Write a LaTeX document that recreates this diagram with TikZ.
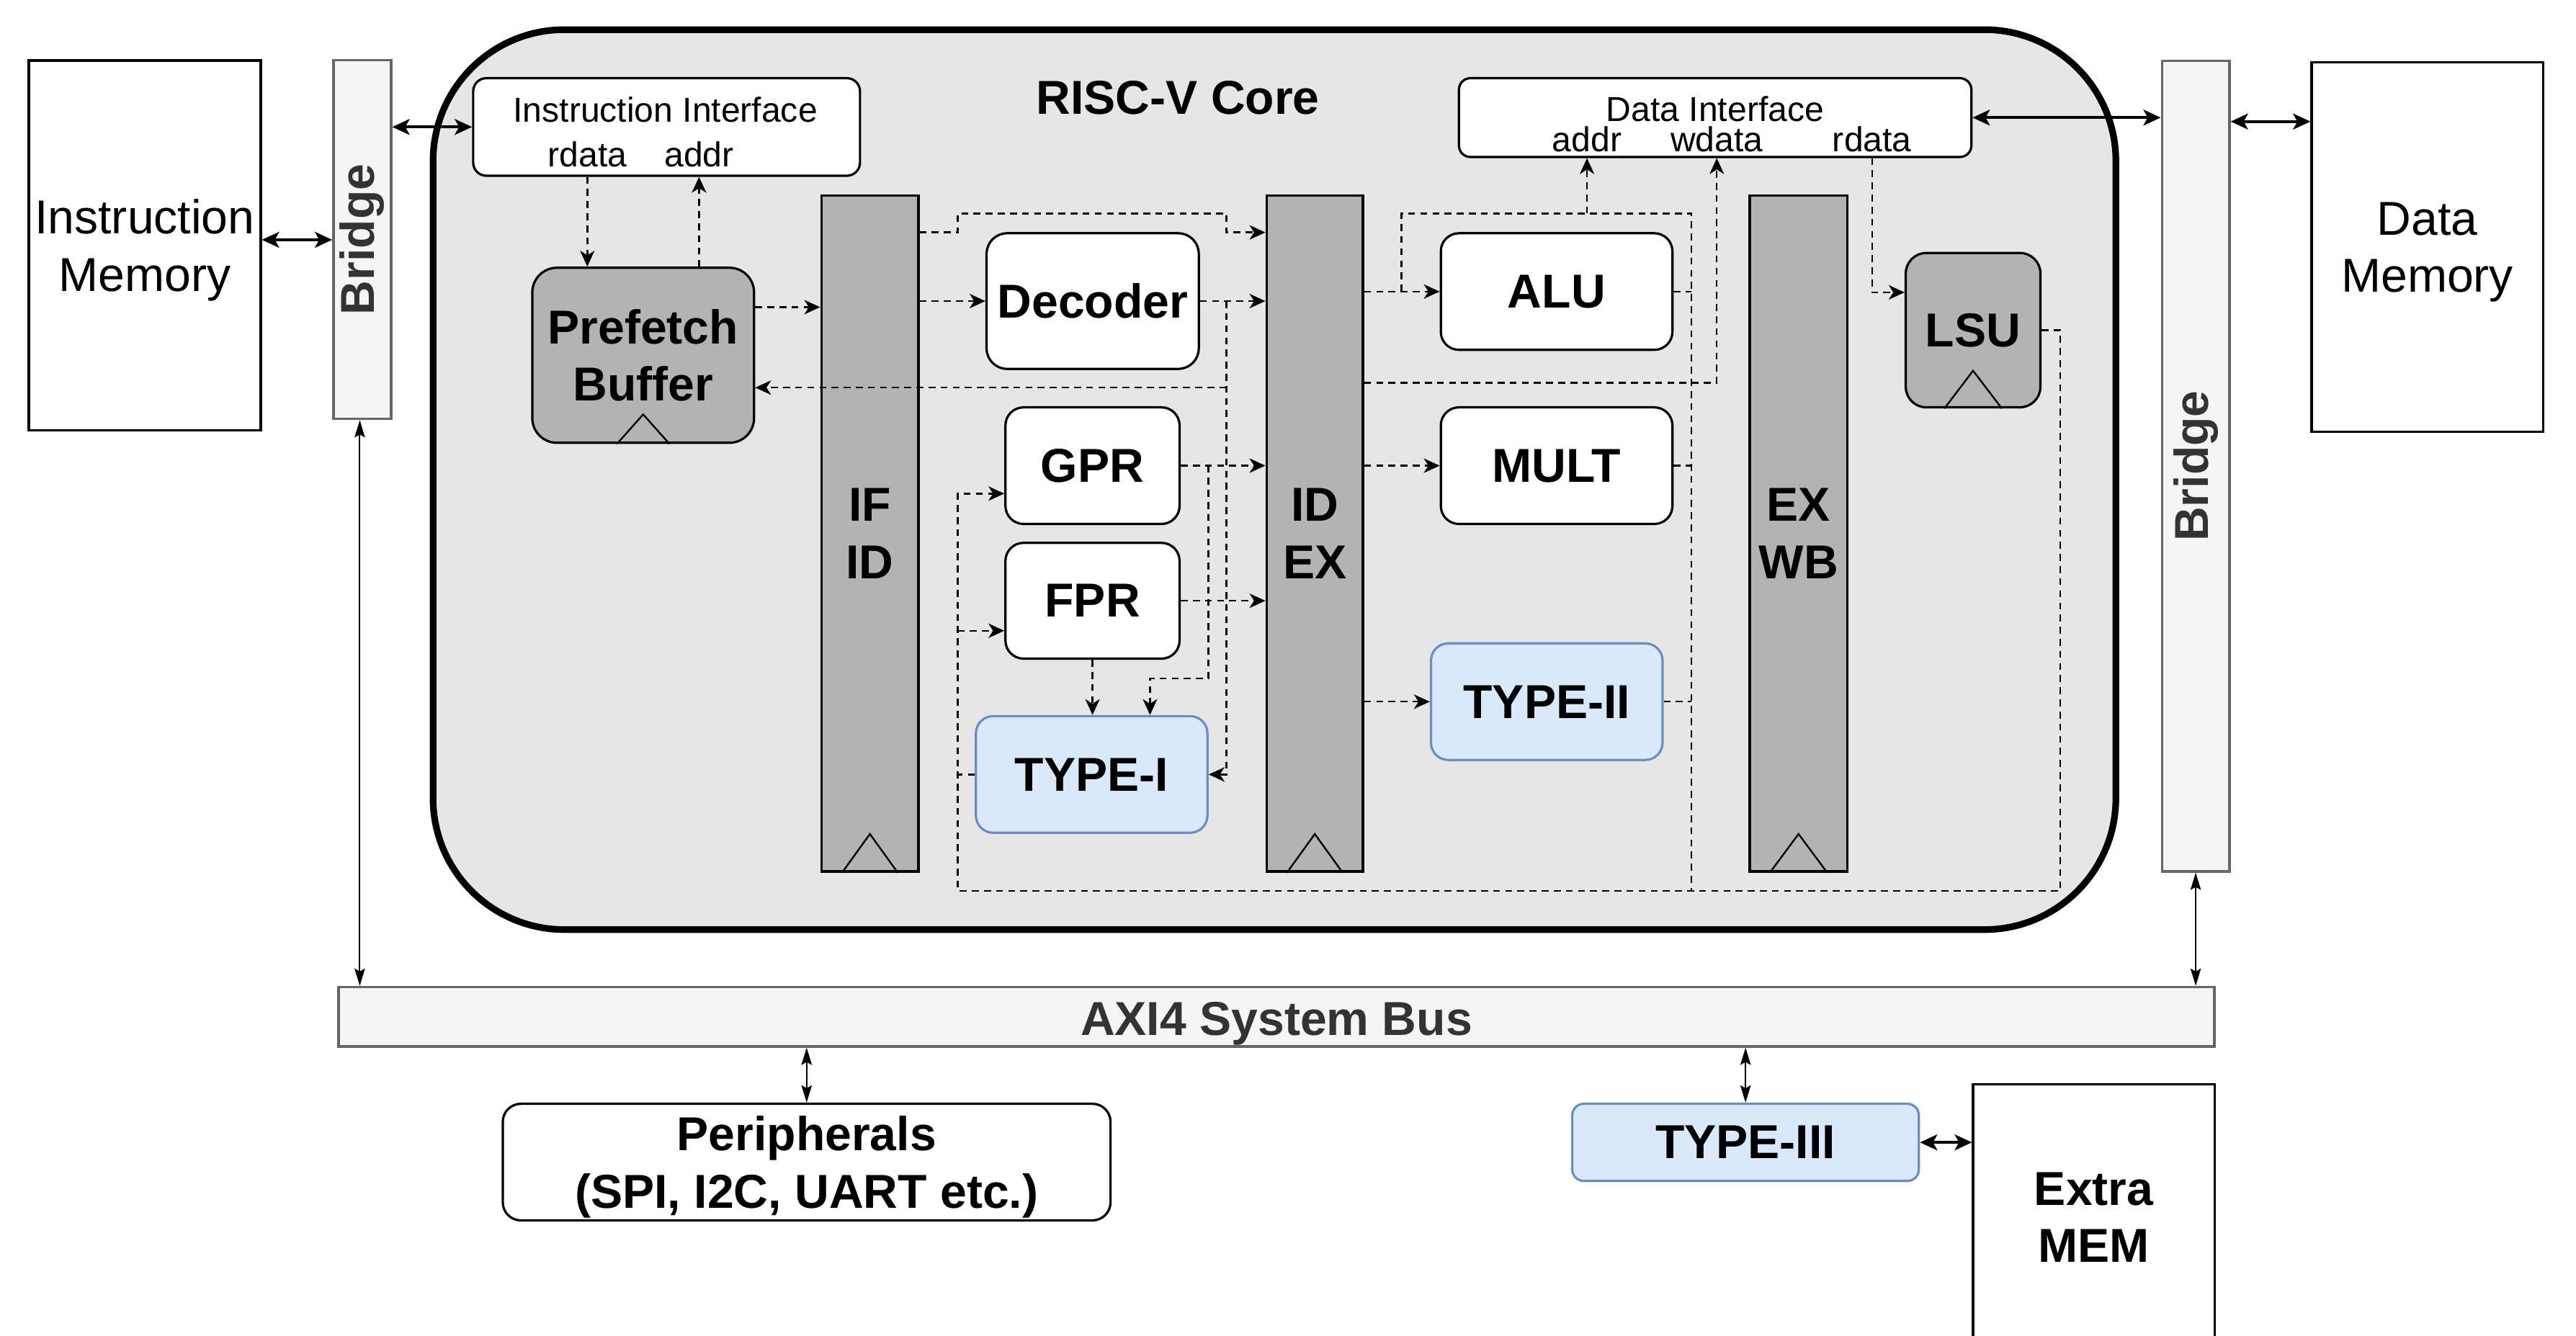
\documentclass[tikz,border=0pt]{standalone}
\usepackage{fontspec}
\setmainfont{Liberation Sans}
\usetikzlibrary{arrows.meta,calc}

\definecolor{coreFill}{HTML}{E6E6E6}
\definecolor{regFill}{HTML}{B3B3B3}
\definecolor{accFill}{HTML}{DAE8FC}
\definecolor{accLine}{HTML}{6C8EBF}
\definecolor{busFill}{HTML}{F5F5F5}
\definecolor{busLine}{HTML}{666666}
\definecolor{busText}{HTML}{333333}

\tikzset{
  bigfont/.style={font=\fontsize{16.5}{19.8}\selectfont},
  boldfont/.style={font=\bfseries\fontsize{16.5}{19.8}\selectfont},
  blk/.style={draw, line width=0.8pt, inner sep=0pt, align=center, boldfont, text depth=0pt},
  unitbox/.style={blk, fill=white, rounded corners=#1},
  unitbox/.default=0.22cm,
  regbox/.style={blk, fill=regFill, line width=0.9pt},
  accbox/.style={blk, fill=accFill, draw=accLine, rounded corners=#1},
  accbox/.default=0.21cm,
  membox/.style={draw, line width=0.8pt, fill=white, inner sep=0pt, align=center, bigfont, text depth=0pt},
  bridgebox/.style={draw=busLine, fill=busFill, line width=0.9pt, inner sep=0pt},
  graytext/.style={boldfont, text=busText, inner sep=0pt},
  ifbox/.style={draw, line width=0.8pt, fill=white, inner sep=0pt, rounded corners=#1},
  ifbox/.default=0.16cm,
  smalltxt/.style={font=\fontsize{12}{14}\selectfont, inner sep=0pt, anchor=base},
  corebox/.style={draw, line width=2.3pt, fill=coreFill, rounded corners=1.6cm, inner sep=0pt},
  clk/.style={line width=0.6pt},
  dl/.style={line width=0.6pt, dash pattern=on 2.4pt off 1.8pt,
             -{Stealth[length=5.5pt,width=5pt,inset=1.6pt]}},
  dn/.style={line width=0.6pt, dash pattern=on 2.4pt off 1.8pt},
  dbl/.style={line width=0.9pt,
              {Stealth[length=6pt,width=5.5pt,inset=1.5pt]}-{Stealth[length=6pt,width=5.5pt,inset=1.5pt]}},
  busarr/.style={line width=0.5pt,
              {Stealth[length=6pt,width=3.6pt,inset=1pt]}-{Stealth[length=6pt,width=3.6pt,inset=1pt]}},
}

\begin{document}
\begin{tikzpicture}[x=0.02cm, y=-0.02cm]
  % page frame
  \clip (0,0) rectangle (1568,813);
  \fill[white] (0,0) rectangle (1568,813);

  % ---------------- processor core ----------------
  \node[corebox, minimum width=20.49cm, minimum height=10.96cm] (core) at (775.75,292) {};
  \node[boldfont, inner sep=0pt, anchor=base] (coreTitle) at (717,69.5) {RISC-V Core};

  % memories and bridges
  \node[membox, minimum width=2.824cm, minimum height=4.504cm] (InstrMem) at (88.1,149.4) {Instruction\\Memory};
  \node[membox, minimum width=2.82cm, minimum height=4.50cm] (DataMem) at (1477.5,150.5) {Data\\Memory};
  \node[bridgebox, minimum width=0.70cm, minimum height=4.368cm] (BridgeL) at (220.5,145.8) {};
  \node[graytext, rotate=90] (BridgeLtxt) at (BridgeL.center) {Bridge};
  \node[bridgebox, minimum width=0.82cm, minimum height=9.87cm] (BridgeR) at (1336.5,283.75) {};
  \node[graytext, rotate=90] (BridgeRtxt) at (BridgeR.center) {Bridge};

  % interfaces
  \node[ifbox, minimum width=4.71cm, minimum height=1.188cm] (IIf) at (405.75,77.3) {};
  \node[smalltxt] (IIfTitle) at (405,74.5) {Instruction Interface};
  \node[smalltxt] (IIfRd) at (357.5,101.5) {rdata};
  \node[smalltxt] (IIfAd) at (425.5,101.5) {addr};

  \node[ifbox=0.14cm, minimum width=6.24cm, minimum height=0.96cm] (DIf) at (1044,71.6) {};
  \node[smalltxt] (DIfTitle) at (1044,74) {Data Interface};
  \node[smalltxt] (DIfAd) at (966,92.5) {addr};
  \node[smalltxt] (DIfWd) at (1045,92.5) {wdata};
  \node[smalltxt] (DIfRd) at (1139.5,92.5) {rdata};

  % fetch stage
  \node[blk, fill=regFill, rounded corners=0.3cm, minimum width=2.70cm, minimum height=2.132cm] (Prefetch) at (391.5,216.3) {Prefetch\\Buffer};

  % pipeline registers
  \node[regbox, minimum width=1.18cm, minimum height=8.232cm] (IFID) at (529.5,324.8) {IF\\ID};
  \node[regbox, minimum width=1.172cm, minimum height=8.232cm] (IDEX) at (800.3,324.8) {ID\\EX};
  \node[regbox, minimum width=1.19cm, minimum height=8.232cm] (EXWB) at (1094.75,324.8) {EX\\WB};

  % decode stage
  \node[unitbox=0.25cm, minimum width=2.584cm, minimum height=1.652cm] (Decoder) at (665.1,183.3) {Decoder};
  \node[unitbox, minimum width=2.12cm, minimum height=1.42cm] (GPR) at (665,283.5) {GPR};
  \node[unitbox, minimum width=2.12cm, minimum height=1.41cm] (FPR) at (665,365.75) {FPR};
  \node[accbox, minimum width=2.82cm, minimum height=1.42cm] (TypeI) at (664.5,471.5) {TYPE-I};

  % execute stage
  \node[unitbox, minimum width=2.82cm, minimum height=1.42cm] (ALU) at (947.5,177.5) {ALU};
  \node[unitbox, minimum width=2.82cm, minimum height=1.42cm] (MULT) at (947.5,283.5) {MULT};
  \node[accbox, minimum width=2.82cm, minimum height=1.42cm] (TypeII) at (941.5,427.2) {TYPE-II};
  \node[blk, fill=regFill, rounded corners=0.25cm, minimum width=1.64cm, minimum height=1.88cm] (LSU) at (1201,201) {LSU};

  % clock marks
  \draw[clk] ([xshift=-0.32cm]Prefetch.south) -- ++(16,-18) -- ++(16,18);
  \draw[clk] ([xshift=-0.34cm]IFID.south) -- ++(17,-23.6) -- ++(17,23.6);
  \draw[clk] ([xshift=-0.34cm]IDEX.south) -- ++(17,-23.6) -- ++(17,23.6);
  \draw[clk] ([xshift=-0.35cm]EXWB.south) -- ++(17.5,-23.6) -- ++(17.5,23.6);
  \draw[clk] ([xshift=-0.35cm]LSU.south) -- ++(17.5,-23) -- ++(17.5,23);

  % ---------------- system side ----------------
  \node[bridgebox, minimum width=22.84cm, minimum height=0.72cm] (Bus) at (777,619) {};
  \node[graytext, anchor=base] (BusTxt) at (777,630.5) {AXI4 System Bus};
  \node[unitbox, minimum width=7.40cm, minimum height=1.42cm] (Periph) at (491,707.5) {Peripherals\\(SPI, I2C, UART etc.)};
  \node[accbox=0.14cm, minimum width=4.22cm, minimum height=0.94cm] (TypeIII) at (1062.5,695.5) {TYPE-III};
  \node[blk, fill=white, minimum width=2.94cm, minimum height=3.24cm] (ExtraMEM) at (1274.5,741) {Extra\\MEM};

  % rails and rows used by the datapath wiring
  \coordinate (xA) at (583,0);
  \coordinate (xB) at (746.5,0);
  \coordinate (xC) at (735.5,0);
  \coordinate (xT) at (700,0);
  \coordinate (xD) at (1029.5,0);
  \coordinate (xE) at (853,0);
  \coordinate (xF) at (1254,0);
  \coordinate (xG) at (219,0);
  \coordinate (rTop) at (0,130);
  \coordinate (rByp) at (0,141.5);
  \coordinate (r146) at (0,146);
  \coordinate (r74) at (0,74);
  \coordinate (r178) at (0,178);
  \coordinate (r187) at (0,187);
  \coordinate (r233) at (0,233);
  \coordinate (r236) at (0,236);
  \coordinate (r300) at (0,300.5);
  \coordinate (r384) at (0,384);
  \coordinate (r413) at (0,413);
  \coordinate (rBot) at (0,542.4);

  % ---------------- solid links ----------------
  \draw[dbl] (InstrMem.east |- r146) -- (BridgeL.west |- r146);
  \draw[dbl] (BridgeL.east |- IIf.west) -- (IIf.west);
  \draw[dbl] (DIf.east) -- (BridgeR.west |- DIf.east);
  \draw[dbl] (BridgeR.east |- r74) -- (DataMem.west |- r74);
  \draw[busarr] (xG |- BridgeL.south) -- (xG |- Bus.north);
  \draw[busarr] (BridgeR.south) -- (BridgeR.south |- Bus.north);
  \draw[busarr] (Periph.north |- Bus.south) -- (Periph.north);
  \draw[busarr] (TypeIII.north |- Bus.south) -- (TypeIII.north);
  \draw[dbl] (TypeIII.east) -- (ExtraMEM.west |- TypeIII.east);

  % ---------------- fetch ----------------
  \draw[dl] (IIfRd |- IIf.south) -- (IIfRd |- Prefetch.north);
  \draw[dl] (IIfAd |- Prefetch.north) -- (IIfAd |- IIf.south);
  \draw[dl] (Prefetch.east |- r187) -- (IFID.west |- r187);

  % ---------------- decode ----------------
  \draw[dl] (IFID.east |- rByp) -| (xA |- rTop) -- (xB |- rTop) |- (IDEX.west |- rByp);
  \draw[dl] (IFID.east |- Decoder.west) -- (Decoder.west);
  \draw[dl] (Decoder.east) -- (IDEX.west |- Decoder.east);
  \draw[dl] (xB |- Decoder.east) -- (xB |- TypeI.east) -- (TypeI.east);
  \draw[dl] (xB |- r236) -- (Prefetch.east |- r236);
  \draw[dl] (GPR.east) -- (IDEX.west |- GPR.east);
  \draw[dl] (xC |- GPR.east) -- (xC |- r413) -| (xT |- TypeI.north);
  \draw[dl] (FPR.east) -- (IDEX.west |- FPR.east);
  \draw[dl] (FPR.south) -- (FPR.south |- TypeI.north);
  \draw[dn] (TypeI.west) -- (xA |- TypeI.west);

  % ---------------- write-back loop ----------------
  \draw[dl] (LSU.east) -| (xF |- rBot) -- (xA |- rBot) |- (GPR.west |- r300);
  \draw[dl] (xA |- r384) -- (FPR.west |- r384);

  % ---------------- execute ----------------
  \draw[dl] (IDEX.east |- ALU.west) -- (ALU.west);
  \draw[dn] (xE |- ALU.west) |- (xD |- rTop) -- (xD |- rBot);
  \draw[dl] (DIfAd |- rTop) -- (DIfAd |- DIf.south);
  \draw[dn] (ALU.east) -- (xD |- ALU.east);
  \draw[dl] (IDEX.east |- r233) -| (DIfWd |- DIf.south);
  \draw[dl] (IDEX.east |- MULT.west) -- (MULT.west);
  \draw[dn] (MULT.east) -- (xD |- MULT.east);
  \draw[dl] (IDEX.east |- TypeII.west) -- (TypeII.west);
  \draw[dn] (TypeII.east) -- (xD |- TypeII.east);
  \draw[dl] (DIfRd |- DIf.south) |- (LSU.west |- r178);
\end{tikzpicture}
\end{document}
